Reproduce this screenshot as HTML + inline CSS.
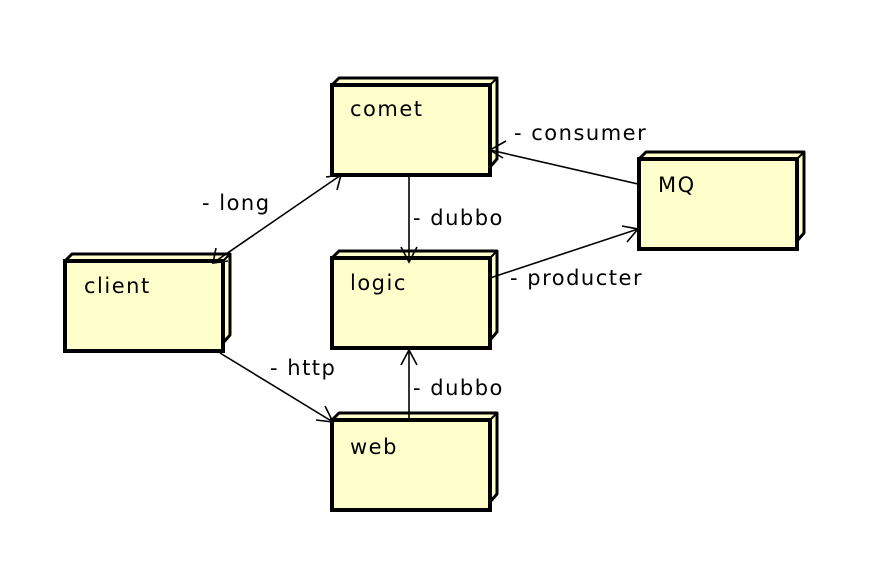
<!DOCTYPE html>
<html><head><style>
body{margin:0;background:#fff;}
svg text{font-family:"DejaVu Sans","Liberation Sans",sans-serif;font-size:21px;letter-spacing:1.5px;fill:#000;}
</style></head><body>
<svg width="870" height="576" viewBox="0 0 870 576" xmlns="http://www.w3.org/2000/svg">
<defs>
<g id="n"><path d="M0,8 L7,1 L165,1 L165,82 L158,90 L158,8 Z" fill="#ffffcc" stroke="#000" stroke-width="3" stroke-linejoin="round"/>
<rect x="0" y="8" width="158" height="90" fill="#ffffcc" stroke="#000" stroke-width="4"/>
<line x1="158" y1="8" x2="165" y2="1" stroke="#000" stroke-width="2"/></g>
</defs>
<g transform="translate(332,77)"><use href="#n"/></g>
<g transform="translate(65,253)"><use href="#n"/></g>
<g transform="translate(332,250)"><use href="#n"/></g>
<g transform="translate(332,412)"><use href="#n"/></g>
<g transform="translate(639,151)"><use href="#n"/></g>
<text x="350" y="116">comet</text>
<text x="84" y="293">client</text>
<text x="350" y="290">logic</text>
<text x="350" y="454">web</text>
<text x="658" y="192">MQ</text>
<g stroke="#000" stroke-width="1.6" fill="none">
<line x1="213" y1="263" x2="341" y2="175"/>
<path d="M216,248 L213,263 L228,261"/>
<path d="M326,177 L341,175 L337,190"/>
<line x1="409" y1="177" x2="409" y2="262"/>
<path d="M401,247 L409,262 L417,247"/>
<line x1="638" y1="184" x2="490" y2="150"/>
<path d="M506,141 L490,150 L503,158"/>
<line x1="490" y1="278" x2="638" y2="229"/>
<path d="M622,226 L638,229 L627,242"/>
<line x1="220" y1="353" x2="333" y2="422"/>
<path d="M316,420 L333,422 L325,406"/>
<line x1="409" y1="420" x2="409" y2="350"/>
<path d="M401,365 L409,350 L417,365"/>
</g>
<text x="202" y="210">- long</text>
<text x="514" y="140">- consumer</text>
<text x="413" y="225">- dubbo</text>
<text x="510" y="285">- producter</text>
<text x="270" y="375">- http</text>
<text x="413" y="395">- dubbo</text>
</svg>
</body></html>
